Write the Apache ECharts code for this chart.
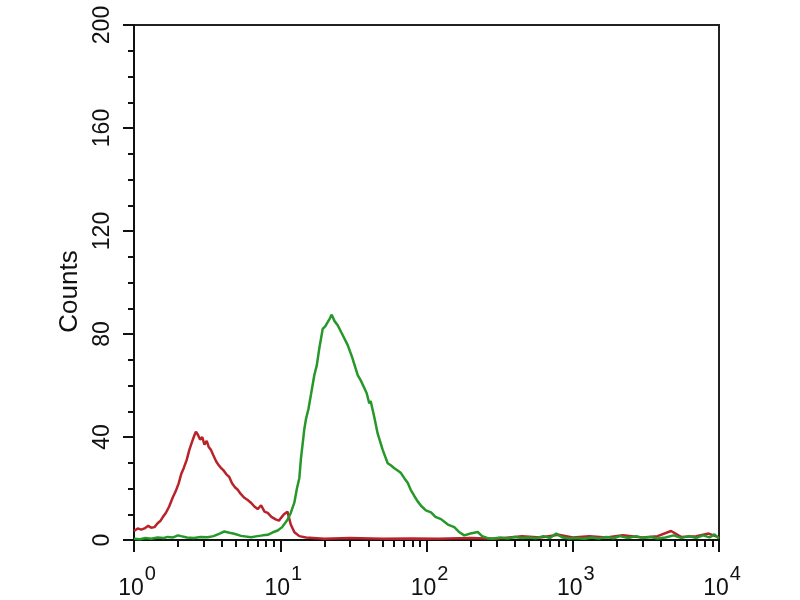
<!DOCTYPE html>
<html>
<head>
<meta charset="utf-8">
<script src="https://cdn.jsdelivr.net/npm/echarts@6/dist/echarts.min.js"></script>
<style>html,body{margin:0;padding:0;background:#fff}#c{width:800px;height:600px}</style>
</head>
<body>
<div id="c"></div>
<script>
// ---- data ----
const redX = [1.00,1.06,1.12,1.18,1.25,1.31,1.38,1.45,1.52,1.57,1.65,1.74,1.84,1.93,2.02,2.10,2.19,2.29,2.39,2.49,2.58,2.65,2.73,2.83,2.93,3.03,3.14,3.25,3.36,3.48,3.65,3.80,3.93,4.10,4.28,4.48,4.68,4.90,5.12,5.35,5.65,5.99,6.30,6.65,7.01,7.40,7.80,8.21,8.70,9.30,9.80,10.1,10.6,11.2,11.8,12.5,13.5,15,20,30,50,80,120,200,300,450,600,800,1000,1300,1700,2200,3000,3800,4700,5500,7000,8500,10000];
const redY = [3.5,4.5,4.0,4.5,5.5,4.8,5.0,6.5,7.5,8.8,10.5,13,16.5,19,22,25.5,28,31,35,38,40.5,42,41,39,40,37,38.5,36,35,33,30.5,29,28,27,25.5,24.5,22,20.5,19.5,18,16.5,15.5,14.5,13,12,13.5,11,10.5,9,8,7.5,8.5,10,11,6,3,1.5,1,0.5,0.8,0.5,0.6,0.5,0.8,0.5,1.5,1,2,1,1.5,1,1.8,1,1.5,3.5,1.2,1.5,2.5,1];

const greenX = [1.00,1.10,1.20,1.31,1.45,1.60,1.70,1.85,2.00,2.10,2.30,2.57,2.85,3.19,3.50,3.85,4.14,4.50,4.85,5.40,6.31,7.00,7.60,8.21,8.90,9.61,10.3,11.24,11.8,12.48,13.0,13.5,13.87,14.24,14.6,15.0,15.6,16.23,17.09,17.8,18.49,19.51,20.3,21.1,21.8,22.48,23.5,24.71,26.5,28.92,31.0,33.85,35.5,37.56,39.0,40.63,41.5,43.97,46.38,50.17,54.29,57.0,60.22,63.5,66.93,70.5,74.38,78.0,82.52,87.0,91.7,99.0,107.4,115,125.7,140,154.9,168,181.3,200,224,240,260,280,320,360,400,450,500,560,630,700,770,850,950,1050,1200,1350,1500,1700,1900,2100,2400,2700,3000,3400,3800,4300,4900,5500,6200,7000,7800,8600,9300,10000];
const greenY = [0.5,0.3,0.8,0.5,1,0.8,1.2,1,1.8,1.5,1,0.8,1.2,1.1,1.5,2.5,3.3,2.8,2.4,1.6,1.1,1.5,1.8,2,3,3.7,5,8,10.5,14.5,20,24,32,37.5,43,47,51,56.6,64,68,74.4,82,83,84.6,86,87.5,85,83.4,80,75.7,71,64,62,59,57,53,54,47.7,41.3,35,29.8,29,27.9,27,26,24,22.2,19.5,17.1,15,13.3,11.5,10.7,9,8.1,6,5,3,1.8,2.5,3.1,1.5,0.8,0.5,1,0.6,1.2,0.8,1,0.7,1.5,0.8,2.5,1,0.6,0.8,0.5,1,0.6,1.2,0.7,1.5,0.8,1.5,0.8,1.2,0.6,1,1.8,0.8,1.5,0.8,1.8,1,2.2,0.5];

const xMajorTicks = [1,10,100,1000,10000];
const xMinorTicks = [2,3,4,5,6,7,8,9,20,30,40,50,60,70,80,90,200,300,400,500,600,700,800,900,2000,3000,4000,5000,6000,7000,8000,9000];
const yTicks = [0,40,80,120,160,200];

const zip = (xs, ys) => xs.map((x, i) => [x, ys[i]]);
const FONT = "'Liberation Sans', Arial, sans-serif";

const chart = echarts.init(document.getElementById('c'), null, {renderer: 'canvas'});
chart.setOption({
  animation: false,
  backgroundColor: '#fff',
  grid: {left: 134, right: 81, top: 25, bottom: 52, show: true, borderColor: '#222', borderWidth: 2, backgroundColor: 'transparent'},
  xAxis: [{
    type: 'log', logBase: 10, min: 1, max: 10000,
    position: 'bottom',
    axisLine: {show: true, lineStyle: {color: '#111', width: 2}},
    axisTick: {show: true, length: 12, inside: false, lineStyle: {color: '#111', width: 2}, customValues: xMajorTicks},
    splitLine: {show: false},
    axisLabel: {
      show: true, margin: 24, color: '#111', fontFamily: FONT, padding: [0,0,0,6],
      customValues: xMajorTicks,
      formatter: v => '{b|10}{s|' + Math.round(Math.log10(v)) + '}',
      rich: {
        b: {fontSize: 23, fontFamily: FONT, color: '#111', lineHeight: 36, verticalAlign: 'bottom'},
        s: {fontSize: 20, fontFamily: FONT, color: '#111', lineHeight: 20, verticalAlign: 'top', padding: [0,0,0,1]}
      }
    }
  }, {
    type: 'log', logBase: 10, min: 1, max: 10000,
    position: 'bottom', gridIndex: 0,
    axisLine: {show: false},
    axisTick: {show: true, length: 7, lineStyle: {color: '#111', width: 2}, customValues: xMinorTicks},
    axisLabel: {show: false},
    splitLine: {show: false}
  }],
  yAxis: {
    type: 'value', min: 0, max: 200, interval: 40,
    name: 'Counts', nameLocation: 'middle', nameRotate: 90, nameGap: 49,
    nameTextStyle: {fontSize: 26, fontFamily: FONT, color: '#111', padding: [0,18,0,0]},
    axisLine: {show: true, lineStyle: {color: '#111', width: 2}},
    axisTick: {show: true, length: 11, lineStyle: {color: '#111', width: 2}},
    minorTick: {show: true, splitNumber: 4, length: 6, lineStyle: {color: '#111', width: 2}},
    splitLine: {show: false},
    axisLabel: {rotate: 90, margin: 20, fontSize: 23, fontFamily: FONT, color: '#111',
      formatter: v => yTicks.includes(v) ? String(v) : ''}
  },
  series: [{
    type: 'line', name: 'control', data: zip(redX, redY), showSymbol: false, symbol: 'none',
    lineStyle: {color: '#b8232a', width: 2.5}, z: 2
  }, {
    type: 'line', name: 'sample', data: zip(greenX, greenY), showSymbol: false, symbol: 'none',
    lineStyle: {color: '#26982a', width: 2.5}, z: 3
  }]
});
</script>
</body>
</html>
